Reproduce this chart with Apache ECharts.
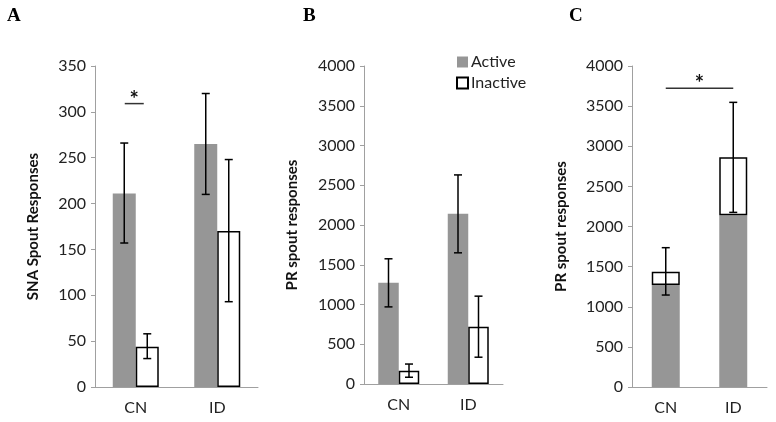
<!DOCTYPE html>
<html><head><meta charset="utf-8">
<script src="https://cdn.jsdelivr.net/npm/echarts@6/dist/echarts.min.js"></script>
<style>html,body{margin:0;padding:0;background:#fff}#c{width:776px;height:422px}</style>
</head><body><div id="c"></div>
<script>
const categories = ['CN', 'ID'];
// Panel A (SNA spout responses)
const aActive = [211, 265];
const aActiveErr = [[157, 266], [210, 320]];
const aInactive = [44, 170];
const aInactiveErr = [[31, 58], [93, 248]];
const aSig = [0, 0, 309];   // from category, to category, value
// Panel B (PR spout responses)
const bActive = [1274, 2140];
const bActiveErr = [[970, 1575], [1650, 2630]];
const bInactive = [168, 721];
const bInactiveErr = [[85, 251], [337, 1105]];
// Panel C (stacked PR spout responses)
const cActive = [1271, 2139];
const cInactive = [166, 723];
const cTotalErr = [[1146, 1736], [2176, 3547]];
const cSig = [0, 1, 3722];
// axes
const aMax = 350, aInterval = 50;
const bcMax = 4000, bcInterval = 500;

const GRAY = '#969696';
const AXIS = '#a0a0a0';
const FONT = 'Lato';

function errData(arr) { return arr.map((e, i) => [i, e[0], e[1]]); }
function errSeries(arr, xi, offset) {
  return {
    type: 'custom', xAxisIndex: xi, yAxisIndex: xi, silent: true, z: 5,
    encode: { x: 0, y: [1, 2] },
    data: errData(arr),
    renderItem: function (params, api) {
      const lo = api.coord([api.value(0), api.value(1)]);
      const hi = api.coord([api.value(0), api.value(2)]);
      const cx = lo[0] + offset, cap = 4;
      const st = { stroke: '#000', lineWidth: 1.5 };
      return { type: 'group', children: [
        { type: 'line', shape: { x1: cx, y1: lo[1], x2: cx, y2: hi[1] }, style: st },
        { type: 'line', shape: { x1: cx - cap, y1: lo[1], x2: cx + cap, y2: lo[1] }, style: st },
        { type: 'line', shape: { x1: cx - cap, y1: hi[1], x2: cx + cap, y2: hi[1] }, style: st }
      ]};
    }
  };
}
function sigSeries(xi, sig, off1, off2, starDy) {
  return {
    type: 'custom', xAxisIndex: xi, yAxisIndex: xi, silent: true, z: 6,
    encode: { x: 0, y: 2 },
    data: [sig],
    renderItem: function (params, api) {
      const p1 = api.coord([api.value(0), api.value(2)]);
      const p2 = api.coord([api.value(1), api.value(2)]);
      const x1 = p1[0] + off1, x2 = p2[0] + off2;
      return { type: 'group', children: [
        { type: 'line', shape: { x1: x1, y1: p1[1], x2: x2, y2: p1[1] }, style: { stroke: '#333', lineWidth: 1.5 } },
        { type: 'text', style: { text: '*', x: (x1 + x2) / 2, y: p1[1] + starDy, fill: '#111', font: 'bold 22px ' + FONT, textAlign: 'center', textVerticalAlign: 'middle' } }
      ]};
    }
  };
}

function xAxis(gi) {
  return { type: 'category', gridIndex: gi, data: categories,
    axisLine: { lineStyle: { color: AXIS, width: 1 } }, axisTick: { show: false },
    axisLabel: { color: '#222', fontSize: 16, fontFamily: FONT, margin: 13 } };
}
function yAxis(gi, max, interval, name, gap) {
  return { type: 'value', gridIndex: gi, min: 0, max: max, interval: interval,
    name: name, nameLocation: 'middle', nameGap: gap,
    nameTextStyle: { color: '#111', fontSize: 15, fontWeight: 'bold', fontFamily: FONT },
    axisLine: { show: true, lineStyle: { color: AXIS, width: 1 } },
    axisTick: { show: true, length: 4, lineStyle: { color: AXIS } },
    splitLine: { show: false },
    axisLabel: { color: '#222', fontSize: 16, fontFamily: FONT, margin: 9, formatter: v => String(v) } };
}

const activeStyle = { color: GRAY };
const inactiveStyle = { color: '#fff', borderColor: '#000', borderWidth: 1.5 };

const chart = echarts.init(document.getElementById('c'), null, { renderer: 'canvas' });
chart.setOption({
  animation: false,
  backgroundColor: '#fff',
  textStyle: { fontFamily: FONT },
  grid: [
    { left: 95, top: 66, width: 163, height: 321 },
    { left: 364, top: 66, width: 139, height: 318 },
    { left: 632, top: 66, width: 135, height: 321 }
  ],
  xAxis: [xAxis(0), xAxis(1), xAxis(2)],
  yAxis: [
    yAxis(0, aMax, aInterval, 'SNA Spout Responses', 54),
    yAxis(1, bcMax, bcInterval, 'PR spout responses', 64),
    yAxis(2, bcMax, bcInterval, 'PR spout responses', 63)
  ],
  legend: {
    data: ['Active', 'Inactive'], orient: 'vertical', left: 451, top: 49,
    itemWidth: 11, itemHeight: 11, itemGap: 5, icon: 'rect',
    textStyle: { fontSize: 16, color: '#222', fontFamily: FONT, padding: [0, 0, 0, -2] }
  },
  graphic: [
    { type: 'text', left: 7, top: 7, style: { text: 'A', font: 'bold 19px "Liberation Serif"', fill: '#000' } },
    { type: 'text', left: 303, top: 7, style: { text: 'B', font: 'bold 19px "Liberation Serif"', fill: '#000' } },
    { type: 'text', left: 569, top: 7, style: { text: 'C', font: 'bold 19px "Liberation Serif"', fill: '#000' } }
  ],
  series: [
    { name: 'Active', type: 'bar', xAxisIndex: 0, yAxisIndex: 0, data: aActive, barWidth: 23, barGap: '0%', itemStyle: activeStyle },
    { name: 'Inactive', type: 'bar', xAxisIndex: 0, yAxisIndex: 0, data: aInactive, barWidth: 23, barGap: '0%', itemStyle: inactiveStyle },
    errSeries(aActiveErr, 0, -11.5),
    errSeries(aInactiveErr, 0, 11.5),
    sigSeries(0, aSig, -11, 8, -4),

    { name: 'Active', type: 'bar', xAxisIndex: 1, yAxisIndex: 1, data: bActive, barWidth: 20.5, barGap: '0%', itemStyle: activeStyle },
    { name: 'Inactive', type: 'bar', xAxisIndex: 1, yAxisIndex: 1, data: bInactive, barWidth: 20.5, barGap: '0%', itemStyle: inactiveStyle },
    errSeries(bActiveErr, 1, -10.25),
    errSeries(bInactiveErr, 1, 10.25),

    { name: 'Active', type: 'bar', xAxisIndex: 2, yAxisIndex: 2, stack: 'c', data: cActive, barWidth: 28, itemStyle: activeStyle },
    { name: 'Inactive', type: 'bar', xAxisIndex: 2, yAxisIndex: 2, stack: 'c', data: cInactive, barWidth: 28, itemStyle: inactiveStyle },
    errSeries(cTotalErr, 2, 0),
    sigSeries(2, cSig, 0, 0, -4)
  ]
});
</script></body></html>
